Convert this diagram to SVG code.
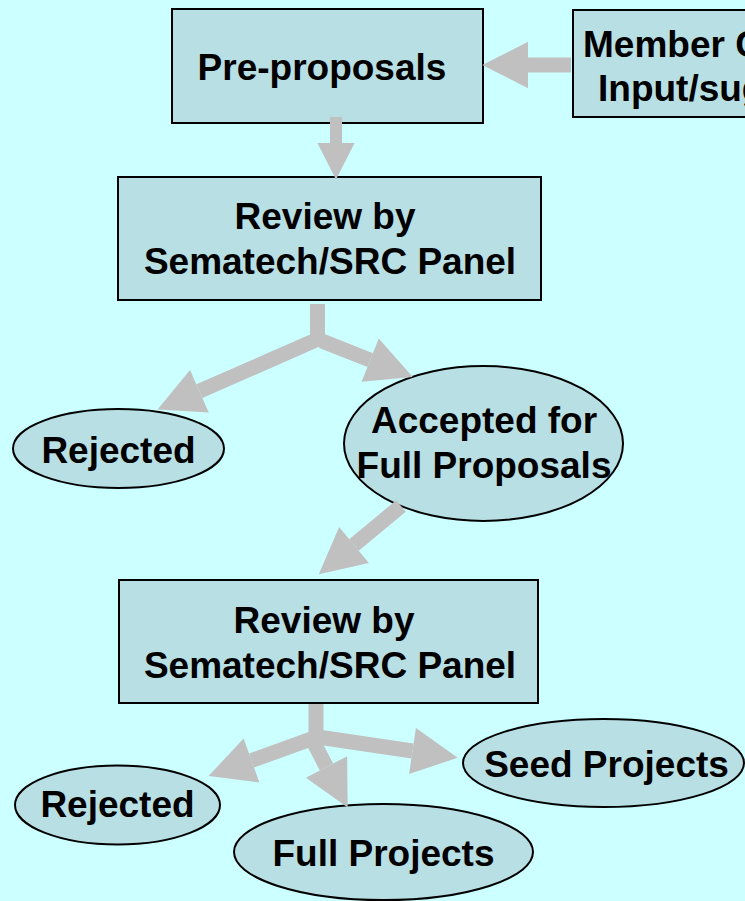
<svg xmlns="http://www.w3.org/2000/svg" width="745" height="901" viewBox="0 0 745 901">
<style>
.box{fill:#B8DFE3;stroke:#000;stroke-width:2}
.lbl{font-family:"Liberation Sans",Arial,sans-serif;font-weight:bold;font-size:37px;fill:#000;text-anchor:middle}
.lbls{font-family:"Liberation Sans",Arial,sans-serif;font-weight:bold;font-size:37px;fill:#000;text-anchor:start}
.arr{stroke:#C0C0C0;fill:none;stroke-linecap:butt;stroke-linejoin:miter}
</style>
<defs>
<marker id="head" markerUnits="strokeWidth" markerWidth="3.2" markerHeight="3.2" refX="0" refY="0" viewBox="0 -1.6 3.1 3.2" orient="auto" overflow="visible">
<path d="M0,-1.55 L3.05,0 L0,1.55 Z" fill="#C0C0C0"/>
</marker>
</defs>
<rect width="745" height="901" fill="#CCFFFF"/>
<g id="pre-proposals">
<rect class="box" x="172" y="9" width="311" height="114"/>
<text class="lbl" x="322" y="80">Pre-proposals</text>
</g>
<g id="member-input">
<rect class="box" x="573" y="10" width="190" height="107"/>
<text class="lbls" x="583" y="57">Member Company</text>
<text class="lbls" x="598" y="101">Input/suggestions</text>
</g>
<g id="review1">
<rect class="box" x="118" y="177" width="423" height="123"/>
<text class="lbl" x="325" y="229">Review by</text>
<text class="lbl" x="330" y="274">Sematech/SRC Panel</text>
</g>
<g id="rejected1">
<ellipse class="box" cx="118.5" cy="448.5" rx="105.5" ry="39.5"/>
<text class="lbl" x="118.5" y="463">Rejected</text>
</g>
<g id="accepted">
<ellipse class="box" cx="483.5" cy="443.5" rx="139.5" ry="77.5"/>
<text class="lbl" x="484" y="433">Accepted for</text>
<text class="lbl" x="484" y="478">Full Proposals</text>
</g>
<g id="review2">
<rect class="box" x="119" y="580" width="419" height="123"/>
<text class="lbl" x="324" y="633">Review by</text>
<text class="lbl" x="330" y="678">Sematech/SRC Panel</text>
</g>
<g id="rejected2">
<ellipse class="box" cx="117.5" cy="805" rx="102.5" ry="39.5"/>
<text class="lbl" x="117.5" y="817">Rejected</text>
</g>
<g id="seed-projects">
<ellipse class="box" cx="603.5" cy="763" rx="140.5" ry="44"/>
<text class="lbl" x="606.5" y="777">Seed Projects</text>
</g>
<g id="full-projects">
<ellipse class="box" cx="383.5" cy="852" rx="149.5" ry="48"/>
<text class="lbl" x="383.5" y="866">Full Projects</text>
</g>
<g id="connectors">
<line class="arr" stroke-width="15" x1="571" y1="65" x2="528" y2="65" marker-end="url(#head)"/>
<line class="arr" stroke-width="12" x1="336" y1="117" x2="336" y2="143" marker-end="url(#head)"/>
<line class="arr" stroke-width="15" x1="317.5" y1="304" x2="317.5" y2="347"/>
<line class="arr" stroke-width="15" x1="316" y1="340" x2="199.4" y2="391.2" marker-end="url(#head)"/>
<line class="arr" stroke-width="15" x1="322" y1="341" x2="370.2" y2="360.1" marker-end="url(#head)"/>
<line class="arr" stroke-width="15" x1="401" y1="506" x2="354" y2="545" marker-end="url(#head)"/>
<line class="arr" stroke-width="15" x1="316" y1="704" x2="316" y2="745"/>
<line class="arr" stroke-width="15" x1="318" y1="737" x2="412.5" y2="751" marker-end="url(#head)"/>
<line class="arr" stroke-width="15" x1="314" y1="738" x2="251.5" y2="760.5" marker-end="url(#head)"/>
<line class="arr" stroke-width="15" x1="314.5" y1="744" x2="326.5" y2="767" marker-end="url(#head)"/>
</g>
</svg>
